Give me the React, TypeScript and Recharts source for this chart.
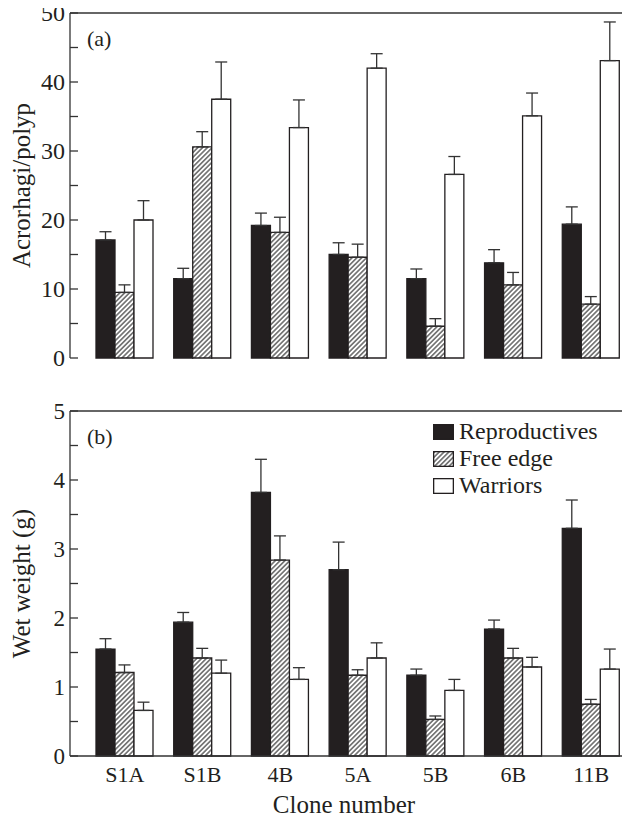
import React from 'react';
import { BarChart, Bar, XAxis, YAxis, ErrorBar, ReferenceLine, Legend } from 'recharts';

const clones = ['S1A', 'S1B', '4B', '5A', '5B', '6B', '11B'];

// Panel (a): acrorhagi per polyp
const acroReproductives = [17.1, 11.5, 19.2, 15.0, 11.5, 13.8, 19.4];
const acroReproductivesErr = [1.2, 1.5, 1.8, 1.7, 1.4, 1.9, 2.5];
const acroFreeEdge = [9.5, 30.6, 18.2, 14.6, 4.6, 10.6, 7.8];
const acroFreeEdgeErr = [1.1, 2.2, 2.2, 1.9, 1.1, 1.8, 1.1];
const acroWarriors = [20.0, 37.5, 33.4, 42.0, 26.6, 35.1, 43.1];
const acroWarriorsErr = [2.8, 5.4, 4.0, 2.1, 2.6, 3.3, 5.6];

// Panel (b): wet weight (g)
const wetReproductives = [1.55, 1.94, 3.82, 2.7, 1.17, 1.84, 3.3];
const wetReproductivesErr = [0.15, 0.14, 0.48, 0.4, 0.09, 0.13, 0.41];
const wetFreeEdge = [1.21, 1.42, 2.84, 1.17, 0.53, 1.42, 0.75];
const wetFreeEdgeErr = [0.11, 0.14, 0.35, 0.08, 0.05, 0.14, 0.07];
const wetWarriors = [0.66, 1.2, 1.11, 1.42, 0.95, 1.29, 1.26];
const wetWarriorsErr = [0.12, 0.19, 0.17, 0.22, 0.16, 0.14, 0.29];

const ticksA = [0, 5, 10, 15, 20, 25, 30, 35, 40, 45, 50];
const labelsA = [0, 10, 20, 30, 40, 50];
const ticksB = [0, 0.5, 1, 1.5, 2, 2.5, 3, 3.5, 4, 4.5, 5];
const labelsB = [0, 1, 2, 3, 4, 5];

const seriesNames = ['Reproductives', 'Free edge', 'Warriors'];

const build = (r: number[], re: number[], f: number[], fe: number[], w: number[], we: number[]) =>
  clones.map((c, i) => ({
    clone: c,
    r: r[i],
    rErr: [0, re[i]],
    f: f[i],
    fErr: [0, fe[i]],
    w: w[i],
    wErr: [0, we[i]],
  }));

const dataA = build(acroReproductives, acroReproductivesErr, acroFreeEdge, acroFreeEdgeErr, acroWarriors, acroWarriorsErr);
const dataB = build(wetReproductives, wetReproductivesErr, wetFreeEdge, wetFreeEdgeErr, wetWarriors, wetWarriorsErr);

const FONT = '"Liberation Serif", "Times New Roman", serif';
const INK = '#231f20';
const LINE = '#333';

const HatchDef = ({ id }: { id: string }) => (
  <defs>
    <pattern id={id} patternUnits="userSpaceOnUse" width={3.4} height={3.4} patternTransform="rotate(45)">
      <rect width={3.4} height={3.4} fill="#fff" />
      <line x1={1.7} y1={0} x2={1.7} y2={3.4} stroke="#2a2a2a" strokeWidth={1.1} />
    </pattern>
  </defs>
);

const makeYTick = (labels: number[], fontSize: number) => (props: any) => {
  const { x, y, payload } = props;
  const show = labels.includes(payload.value);
  return (
    <g>
      <line x1={x + 5} x2={x + 13} y1={y} y2={y} stroke={LINE} strokeWidth={1.3} />
      {show && (
        <text x={x} y={y} dy="0.34em" textAnchor="end" fill={INK} fontSize={fontSize} fontFamily={FONT}>
          {payload.value}
        </text>
      )}
    </g>
  );
};

const LegendContent = () => {
  const swatch = (i: number) => {
    if (i === 0) return <rect x={0.65} y={0.65} width={19.7} height={14.7} fill={INK} stroke={INK} strokeWidth={1.3} />;
    if (i === 1) return <rect x={0.65} y={0.65} width={19.7} height={14.7} fill="url(#hatchLegend)" stroke={INK} strokeWidth={1.3} />;
    return <rect x={0.65} y={0.65} width={19.7} height={14.7} fill="#fff" stroke={INK} strokeWidth={1.3} />;
  };
  return (
    <div style={{ fontFamily: FONT, fontSize: 24, color: INK }}>
      {seriesNames.map((n, i) => (
        <div key={n} style={{ display: 'flex', alignItems: 'center', height: 27, whiteSpace: 'nowrap' }}>
          <svg width={21} height={16} style={{ display: 'block', marginRight: 5 }}>
            <HatchDef id="hatchLegend" />
            {swatch(i)}
          </svg>
          <span style={{ lineHeight: '27px' }}>{n}</span>
        </div>
      ))}
    </div>
  );
};

const Bars = (hatchId: string) => [
  <Bar key="r" dataKey="r" name={seriesNames[0]} fill={INK} stroke={INK} strokeWidth={1.3} isAnimationActive={false}>
    <ErrorBar dataKey="rErr" width={6} stroke={LINE} strokeWidth={1.3} direction="y" />
  </Bar>,
  <Bar key="f" dataKey="f" name={seriesNames[1]} fill={`url(#${hatchId})`} stroke={INK} strokeWidth={1.3} isAnimationActive={false}>
    <ErrorBar dataKey="fErr" width={6} stroke={LINE} strokeWidth={1.3} direction="y" />
  </Bar>,
  <Bar key="w" dataKey="w" name={seriesNames[2]} fill="#fff" stroke={INK} strokeWidth={1.3} isAnimationActive={false}>
    <ErrorBar dataKey="wErr" width={6} stroke={LINE} strokeWidth={1.3} direction="y" />
  </Bar>,
];

export default function App() {
  return (
    <div style={{ width: 622, fontFamily: FONT }}>
      <style>{'.recharts-surface{overflow:visible}'}</style>
      <BarChart
        width={622}
        height={380}
        data={dataA}
        margin={{ top: 5, right: 0, bottom: 30, left: 0 }}
        barCategoryGap={10}
        barGap={0}
      >
        <HatchDef id="hatchA" />
        <XAxis
          dataKey="clone"
          height={0}
          tick={false}
          tickLine={false}
          axisLine={{ stroke: LINE, strokeWidth: 1.3 }}
          padding={{ left: 16, right: 0 }}
        />
        <YAxis
          domain={[0, 50]}
          ticks={ticksA}
          interval={0}
          width={62}
          tickSize={0}
          tickMargin={5}
          tickLine={false}
          axisLine={{ stroke: LINE, strokeWidth: 1.3 }}
          tick={makeYTick(labelsA, 24)}
          label={{
            value: 'Acrorhagi/polyp',
            angle: -90,
            position: 'insideLeft',
            offset: 13,
            style: { textAnchor: 'middle', fontSize: 25, fontFamily: FONT, fill: INK },
          }}
        />
        <ReferenceLine
          y={50}
          stroke={LINE}
          strokeWidth={1.3}
          label={{ value: '(a)', position: 'insideTopLeft', offset: 17, fontSize: 22, fontFamily: FONT, fill: INK }}
        />
        {Bars('hatchA')}
      </BarChart>
      <BarChart
        width={622}
        height={428}
        data={dataB}
        margin={{ top: 23, right: 0, bottom: 0, left: 0 }}
        barCategoryGap={10}
        barGap={0}
      >
        <HatchDef id="hatchB" />
        <XAxis
          dataKey="clone"
          height={60}
          tickLine={false}
          tickSize={0}
          tickMargin={10}
          interval={0}
          axisLine={{ stroke: LINE, strokeWidth: 1.3 }}
          tick={{ fontSize: 22, fontFamily: FONT, fill: INK }}
          padding={{ left: 16, right: 0 }}
          label={{
            value: 'Clone number',
            position: 'insideBottom',
            offset: 3,
            dx: -6,
            style: { fontSize: 25, fontFamily: FONT, fill: INK },
          }}
        />
        <YAxis
          domain={[0, 5]}
          ticks={ticksB}
          interval={0}
          width={62}
          tickSize={0}
          tickMargin={5}
          tickLine={false}
          axisLine={{ stroke: LINE, strokeWidth: 1.3 }}
          tick={makeYTick(labelsB, 23)}
          label={{
            value: 'Wet weight (g)',
            angle: -90,
            position: 'insideLeft',
            offset: 13,
            style: { textAnchor: 'middle', fontSize: 25, fontFamily: FONT, fill: INK },
          }}
        />
        <ReferenceLine
          y={5}
          stroke={LINE}
          strokeWidth={1.3}
          label={{ value: '(b)', position: 'insideTopLeft', offset: 17, fontSize: 22, fontFamily: FONT, fill: INK }}
        />
        {Bars('hatchB')}
        <Legend
          layout="vertical"
          align="center"
          verticalAlign="middle"
          content={<LegendContent />}
          wrapperStyle={{ top: 30, left: 425, width: 'auto', height: 'auto' }}
        />
      </BarChart>
    </div>
  );
}
